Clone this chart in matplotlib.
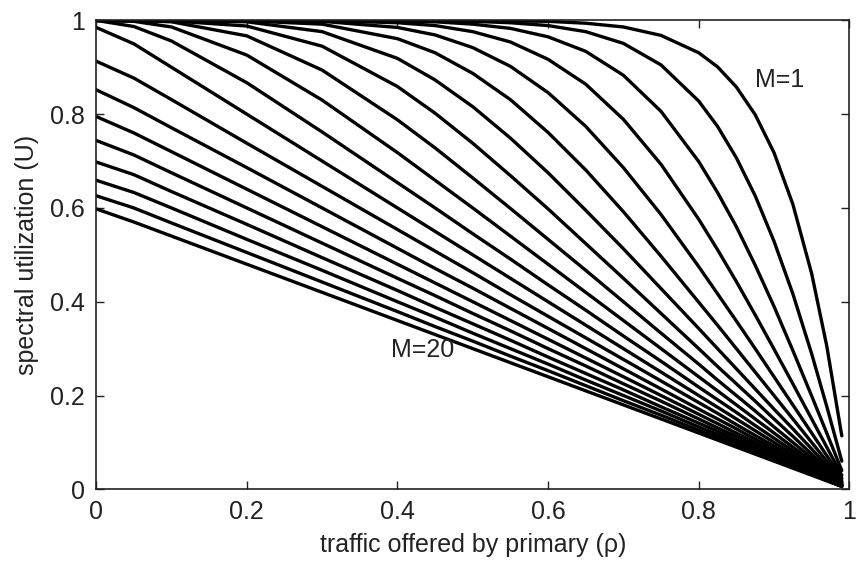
import matplotlib
matplotlib.use("Agg")
import matplotlib.pyplot as plt

# traffic offered by primary (rho) sample positions
rho = [0, 0.05, 0.1, 0.2, 0.3, 0.4, 0.45, 0.5, 0.55, 0.6, 0.65, 0.7, 0.75, 0.8,
       0.825, 0.85, 0.875, 0.9, 0.925, 0.95, 0.97, 0.99]

# spectral utilization for M = 1 .. 20
u_m1 = [1, 1, 1, 1, 1, 1, 1, 1, 0.999, 0.998, 0.994, 0.986, 0.968, 0.931, 0.901, 0.858, 0.799, 0.718, 0.608, 0.460, 0.306, 0.114]
u_m2 = [1, 1, 1, 1, 1, 1, 0.999, 0.998, 0.995, 0.989, 0.976, 0.951, 0.905, 0.828, 0.774, 0.707, 0.626, 0.529, 0.417, 0.289, 0.177, 0.060]
u_m3 = [1, 1, 1, 1, 1, 0.999, 0.997, 0.992, 0.983, 0.965, 0.934, 0.883, 0.806, 0.699, 0.633, 0.560, 0.478, 0.390, 0.296, 0.199, 0.120, 0.040]
u_m4 = [1, 1, 1, 1, 0.9995, 0.995, 0.989, 0.976, 0.954, 0.917, 0.864, 0.789, 0.693, 0.576, 0.511, 0.443, 0.372, 0.299, 0.225, 0.150, 0.090, 0.030]
u_m5 = [1, 1, 1, 1, 0.998, 0.985, 0.969, 0.942, 0.902, 0.846, 0.774, 0.686, 0.586, 0.475, 0.417, 0.359, 0.300, 0.240, 0.180, 0.120, 0.072, 0.024]
u_m6 = [1, 1, 1, 0.999, 0.992, 0.961, 0.931, 0.887, 0.831, 0.761, 0.681, 0.592, 0.497, 0.399, 0.350, 0.300, 0.250, 0.200, 0.150, 0.100, 0.060, 0.020]
u_m7 = [1, 1, 1, 0.997, 0.976, 0.919, 0.873, 0.816, 0.749, 0.675, 0.595, 0.513, 0.428, 0.343, 0.300, 0.257, 0.214, 0.171, 0.129, 0.086, 0.051, 0.017]
u_m8 = [1, 1, 0.999, 0.988, 0.945, 0.859, 0.802, 0.738, 0.669, 0.598, 0.524, 0.450, 0.375, 0.300, 0.262, 0.225, 0.188, 0.150, 0.113, 0.075, 0.045, 0.015]
u_m9 = [1, 1, 0.997, 0.967, 0.894, 0.788, 0.728, 0.664, 0.599, 0.533, 0.467, 0.400, 0.333, 0.267, 0.233, 0.200, 0.167, 0.133, 0.100, 0.067, 0.040, 0.013]
u_m10 = [1, 0.998, 0.986, 0.926, 0.830, 0.718, 0.659, 0.600, 0.540, 0.480, 0.420, 0.360, 0.300, 0.240, 0.210, 0.180, 0.150, 0.120, 0.090, 0.060, 0.036, 0.012]
u_m11 = [1, 0.987, 0.956, 0.867, 0.762, 0.654, 0.600, 0.545, 0.491, 0.436, 0.382, 0.327, 0.273, 0.218, 0.191, 0.164, 0.136, 0.109, 0.082, 0.055, 0.033, 0.011]
u_m12 = [0.985, 0.95, 0.9, 0.8, 0.7, 0.6, 0.55, 0.5, 0.45, 0.4, 0.35, 0.3, 0.25, 0.2, 0.175, 0.15, 0.125, 0.1, 0.075, 0.05, 0.03, 0.010]
u_m13 = [0.913, 0.877, 0.831, 0.738, 0.646, 0.554, 0.508, 0.462, 0.415, 0.369, 0.323, 0.277, 0.231, 0.185, 0.162, 0.138, 0.115, 0.092, 0.069, 0.046, 0.028, 0.009]
u_m14 = [0.852, 0.814, 0.771, 0.686, 0.600, 0.514, 0.471, 0.429, 0.386, 0.343, 0.300, 0.257, 0.214, 0.171, 0.150, 0.129, 0.107, 0.086, 0.064, 0.043, 0.026, 0.009]
u_m15 = [0.795, 0.76, 0.72, 0.64, 0.56, 0.48, 0.44, 0.40, 0.36, 0.32, 0.28, 0.24, 0.20, 0.16, 0.14, 0.12, 0.10, 0.08, 0.06, 0.04, 0.024, 0.008]
u_m16 = [0.744, 0.713, 0.675, 0.6, 0.525, 0.45, 0.413, 0.375, 0.338, 0.3, 0.263, 0.225, 0.188, 0.15, 0.131, 0.113, 0.094, 0.075, 0.056, 0.038, 0.023, 0.008]
u_m17 = [0.698, 0.671, 0.635, 0.565, 0.494, 0.424, 0.388, 0.353, 0.318, 0.282, 0.247, 0.212, 0.176, 0.141, 0.124, 0.106, 0.088, 0.071, 0.053, 0.035, 0.021, 0.007]
u_m18 = [0.659, 0.633, 0.6, 0.533, 0.467, 0.4, 0.367, 0.333, 0.3, 0.267, 0.233, 0.2, 0.167, 0.133, 0.117, 0.1, 0.083, 0.067, 0.05, 0.033, 0.02, 0.007]
u_m19 = [0.626, 0.6, 0.568, 0.505, 0.442, 0.379, 0.347, 0.316, 0.284, 0.253, 0.221, 0.189, 0.158, 0.126, 0.111, 0.095, 0.079, 0.063, 0.047, 0.032, 0.019, 0.006]
u_m20 = [0.598, 0.57, 0.54, 0.48, 0.42, 0.36, 0.33, 0.30, 0.27, 0.24, 0.21, 0.18, 0.15, 0.12, 0.105, 0.09, 0.075, 0.06, 0.045, 0.03, 0.018, 0.006]

series = [u_m1, u_m2, u_m3, u_m4, u_m5, u_m6, u_m7, u_m8, u_m9, u_m10,
          u_m11, u_m12, u_m13, u_m14, u_m15, u_m16, u_m17, u_m18, u_m19, u_m20]

x_ticks = [0, 0.2, 0.4, 0.6, 0.8, 1]
x_tick_labels = ["0", "0.2", "0.4", "0.6", "0.8", "1"]
y_ticks = [0, 0.2, 0.4, 0.6, 0.8, 1]
y_tick_labels = ["0", "0.2", "0.4", "0.6", "0.8", "1"]

plt.rcParams["font.family"] = ["Liberation Sans", "DejaVu Sans"]

fig = plt.figure(figsize=(8.56, 5.70), dpi=100)
ax = fig.add_axes([0.1124, 0.1416, 0.8798, 0.8226])

for s in series:
    ax.plot(rho, s, color="black", linewidth=2.4, solid_joinstyle="round", solid_capstyle="round")

ax.set_xlim(0, 1)
ax.set_ylim(0, 1)
ax.set_xticks(x_ticks)
ax.set_xticklabels(x_tick_labels)
ax.set_yticks(y_ticks)
ax.set_yticklabels(y_tick_labels)
ax.tick_params(direction="in", top=True, right=True, length=6, width=1.0,
               labelsize=18, colors="#222222", pad=8)
for sp in ax.spines.values():
    sp.set_linewidth(1.2)
    sp.set_color("#222222")

ax.set_xlabel("traffic offered by primary (\u03c1)", fontsize=18, color="#222222", labelpad=6)
ax.set_ylabel("spectral utilization (U)", fontsize=18, color="#222222", labelpad=8)

ax.text(0.908, 0.872, "M=1", fontsize=18, ha="center", va="center", color="#222222")
ax.text(0.433, 0.296, "M=20", fontsize=18, ha="center", va="center", color="#222222")

fig.savefig("out.png", dpi=100)
